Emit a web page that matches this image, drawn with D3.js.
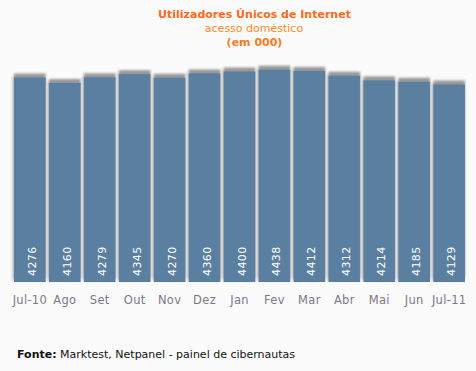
<!DOCTYPE html>
<html><head><meta charset="utf-8">
<script src="https://cdnjs.cloudflare.com/ajax/libs/d3/7.8.5/d3.min.js"></script>
<style>
html,body{margin:0;padding:0;background:#fbfbfb;}
svg{display:block;}
</style></head>
<body>
<svg id="c" width="476" height="371"></svg>
<script>
const categories = ["Jul-10","Ago","Set","Out","Nov","Dez","Jan","Fev","Mar","Abr","Mai","Jun","Jul-11"];
const values = [4276,4160,4279,4345,4270,4360,4400,4438,4412,4312,4214,4185,4129];
const titleLines = ["Utilizadores Únicos de Internet","acesso doméstico","(em 000)"];
const sourceBold = "Fonte:";
const sourceText = " Marktest, Netpanel - painel de cibernautas";

const svg = d3.select("#c");
const font = "DejaVu Sans, Verdana, sans-serif";

const defs = svg.append("defs");
const f = defs.append("filter").attr("id","sh").attr("x","-20%").attr("y","-20%").attr("width","140%").attr("height","140%");
f.append("feGaussianBlur").attr("in","SourceAlpha").attr("stdDeviation",1).attr("result","b");
f.append("feOffset").attr("in","b").attr("dx",0).attr("dy",-4).attr("result","o1");
f.append("feFlood").attr("flood-color","#8a8a8a").attr("flood-opacity",0.85).attr("result","c1");
f.append("feComposite").attr("in","c1").attr("in2","o1").attr("operator","in").attr("result","s1");
f.append("feOffset").attr("in","b").attr("dx",-2.5).attr("dy",-1).attr("result","o2");
f.append("feFlood").attr("flood-color","#bdbdbd").attr("flood-opacity",0.7).attr("result","c2");
f.append("feComposite").attr("in","c2").attr("in2","o2").attr("operator","in").attr("result","s2");
const m = f.append("feMerge");
m.append("feMergeNode").attr("in","s2");
m.append("feMergeNode").attr("in","s1");
m.append("feMergeNode").attr("in","SourceGraphic");

const x = d3.scaleBand().domain(categories).range([14, 465]).paddingInner(0.092).paddingOuter(0);
const y = d3.scaleLinear().domain([0, 4500]).range([282, 282 - 4500/20.9]);

svg.append("g").selectAll("rect").data(values).join("rect")
  .attr("x",(d,i)=>x(categories[i]))
  .attr("y",d=>y(d))
  .attr("width",x.bandwidth())
  .attr("height",d=>y(0)-y(d))
  .attr("fill","#5a7fa0")
  .attr("filter","url(#sh)");

svg.append("g").selectAll("text").data(values).join("text")
  .attr("transform",(d,i)=>`translate(${x(categories[i])+x.bandwidth()/2+6},276) rotate(-90)`)
  .attr("fill","#ffffff").attr("font-family",font).attr("font-size",11).attr("letter-spacing",0.4)
  .text(d=>d);

const xa = svg.append("g").attr("transform","translate(0,282)")
  .call(d3.axisBottom(x).tickSize(0).tickPadding(14));
xa.select(".domain").remove();
xa.selectAll("text").attr("fill","#807689").attr("font-family",font).attr("font-size",11.5).attr("letter-spacing",0.3);

const t = svg.append("g").attr("font-family",font).attr("text-anchor","middle");
t.append("text").attr("x",254.5).attr("y",18).attr("font-weight","bold").attr("font-size",11).attr("fill","#ff6a1a").text(titleLines[0]);
t.append("text").attr("x",254).attr("y",32).attr("font-size",11).attr("fill","#ff8a2a").text(titleLines[1]);
t.append("text").attr("x",254.5).attr("y",46).attr("font-weight","bold").attr("font-size",11).attr("fill","#ff7a22").text(titleLines[2]);

const s = svg.append("text").attr("x",17).attr("y",358).attr("font-family",font).attr("font-size",11).attr("fill","#111");
s.append("tspan").attr("font-weight","bold").text(sourceBold);
s.append("tspan").text(sourceText);
</script>
</body></html>
